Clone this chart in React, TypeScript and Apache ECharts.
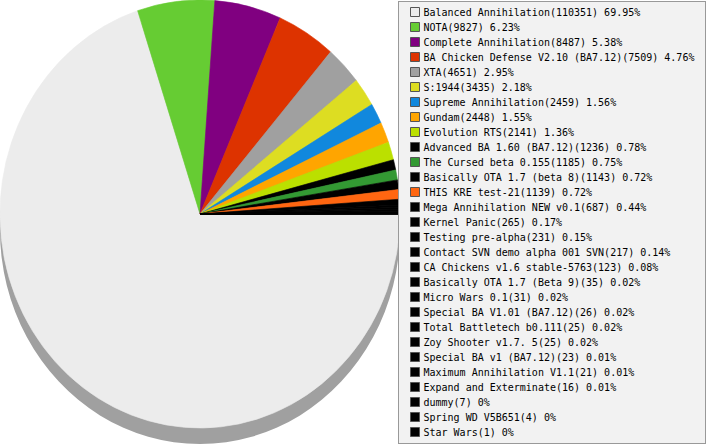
import React, { useEffect, useRef } from "react";
import * as echarts from "echarts";

const names = [
  "Balanced Annihilation",
  "NOTA",
  "Complete Annihilation",
  "BA Chicken Defense V2.10 (BA7.12)",
  "XTA",
  "S:1944",
  "Supreme Annihilation",
  "Gundam",
  "Evolution RTS",
  "Advanced BA 1.60 (BA7.12)",
  "The Cursed beta 0.155",
  "Basically OTA 1.7 (beta 8)",
  "THIS KRE test-21",
  "Mega Annihilation NEW v0.1",
  "Kernel Panic",
  "Testing pre-alpha",
  "Contact SVN demo alpha 001 SVN",
  "CA Chickens v1.6 stable-5763",
  "Basically OTA 1.7 (Beta 9)",
  "Micro Wars 0.1",
  "Special BA V1.01 (BA7.12)",
  "Total Battletech b0.111",
  "Zoy Shooter v1.7. 5",
  "Special BA v1 (BA7.12)",
  "Maximum Annihilation V1.1",
  "Expand and Exterminate",
  "dummy",
  "Spring WD V5B651",
  "Star Wars",
];

const values = [
  110351, 9827, 8487, 7509, 4651, 3435, 2459, 2448, 2141, 1236, 1185, 1143,
  1139, 687, 265, 231, 217, 123, 35, 31, 26, 25, 25, 23, 21, 16, 7, 4, 1,
];

const colors = [
  "#ececec", "#66cc33", "#800080", "#dd3300", "#a0a0a0", "#dddd22",
  "#1188dd", "#ffa500", "#bbe000", "#000000", "#339933", "#000000",
  "#ff6611", "#000000", "#000000", "#000000", "#000000", "#000000",
  "#000000", "#000000", "#000000", "#000000", "#000000", "#000000",
  "#000000", "#000000", "#000000", "#000000", "#000000",
];

export default function App() {
  const pieRef = useRef<HTMLDivElement>(null);
  const legRef = useRef<HTMLDivElement>(null);

  useEffect(() => {
    document.body.style.margin = "0";
    const total = values.reduce((a, b) => a + b, 0);
    const data = names.map((n, i) => ({
      name: n,
      value: values[i],
      itemStyle: { color: colors[i], borderColor: colors[i], borderWidth: 0.6 },
    }));

    const pie = echarts.init(pieRef.current!, undefined, { renderer: "svg" });
    pie.setOption({
      animation: false,
      series: [
        {
          type: "pie",
          silent: true,
          center: [200, 215],
          radius: 200,
          label: { show: false },
          labelLine: { show: false },
          itemStyle: { color: "#a0a0a0", borderWidth: 0 },
          data: [{ name: "shadow", value: 1 }],
          z: 1,
        },
        {
          type: "pie",
          silent: true,
          center: [200, 200],
          radius: 200,
          startAngle: 0,
          clockwise: true,
          label: { show: false },
          labelLine: { show: false },
          emphasis: { disabled: true },
          data,
          z: 2,
        },
      ],
    });

    const leg = echarts.init(legRef.current!, undefined, { renderer: "svg" });
    leg.setOption({
      animation: false,
      legend: {
        orient: "vertical",
        left: 11,
        top: 5,
        padding: 0,
        itemWidth: 9,
        itemHeight: 9,
        itemGap: 5,
        selectedMode: false,
        icon: "rect",
        itemStyle: { borderColor: "#555", borderWidth: 1 },
        textStyle: {
          fontFamily: "DejaVu Sans Mono",
          fontSize: 10,
          lineHeight: 10,
          color: "#000",
          padding: [0, 0, 0, -1],
        },
        formatter: (name: string) => {
          const i = names.indexOf(name);
          const pct = parseFloat(((values[i] / total) * 100).toFixed(2));
          return `${name}(${values[i]}) ${pct}%`;
        },
        data: names,
      },
      series: [
        {
          type: "pie",
          radius: 0,
          center: [-100, -100],
          silent: true,
          label: { show: false },
          labelLine: { show: false },
          data: names.map((n, i) => ({
            name: n,
            value: values[i],
            itemStyle: { color: colors[i] },
          })),
        },
      ],
    });

    return () => {
      pie.dispose();
      leg.dispose();
    };
  }, []);

  return (
    <div style={{ position: "relative", width: 707, height: 445, overflow: "hidden", background: "#fff" }}>
      <div
        ref={pieRef}
        style={{
          position: "absolute",
          left: 0,
          top: 0,
          width: 400,
          height: 420,
          transform: "scaleY(1.07)",
          transformOrigin: "0 0",
        }}
      />
      <div
        ref={legRef}
        style={{
          position: "absolute",
          left: 398,
          top: 1,
          width: 308,
          height: 443,
          boxSizing: "border-box",
          background: "#f2f2f2",
          border: "1px solid #999",
        }}
      />
    </div>
  );
}
